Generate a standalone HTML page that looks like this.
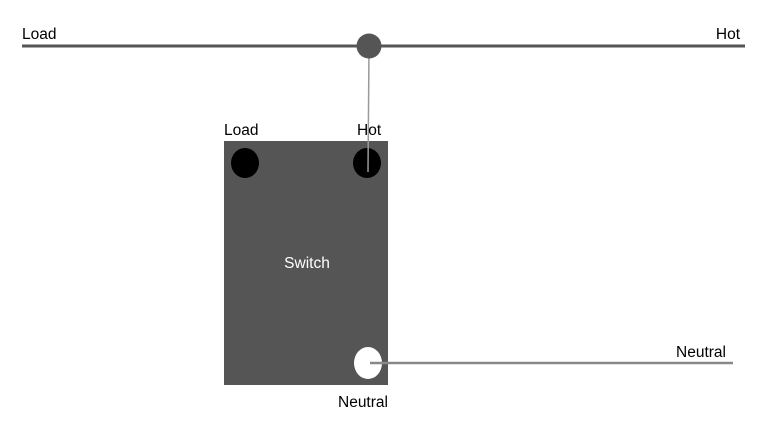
<!DOCTYPE html>
<html><head><style>body{margin:0;background:#fff}svg{display:block}text{font-family:"Liberation Sans",sans-serif;font-size:15.5px}</style></head>
<body>
<svg width="767" height="427" viewBox="0 0 767 427">
<line x1="22" y1="46" x2="745" y2="46" stroke="#555" stroke-width="3"/>
<text x="22" y="39" fill="#000">Load</text>
<text x="740" y="39" fill="#000" text-anchor="end">Hot</text>
<rect x="224" y="141" width="164" height="244" fill="#555"/>
<ellipse cx="245" cy="163" rx="14" ry="15" fill="#000"/>
<ellipse cx="367" cy="163" rx="14" ry="15" fill="#000"/>
<ellipse cx="368" cy="363" rx="14" ry="16" fill="#fff"/>
<line x1="369" y1="50" x2="368" y2="172" stroke="#999" stroke-width="1.5"/>
<circle cx="369" cy="46" r="12.5" fill="#555"/>
<line x1="370" y1="363" x2="733" y2="363" stroke="#888" stroke-width="2.5"/>
<text x="224" y="135">Load</text>
<text x="357" y="135">Hot</text>
<text x="307" y="268" fill="#fff" text-anchor="middle">Switch</text>
<text x="338" y="407">Neutral</text>
<text x="726" y="357" text-anchor="end">Neutral</text>
</svg>
</body></html>
